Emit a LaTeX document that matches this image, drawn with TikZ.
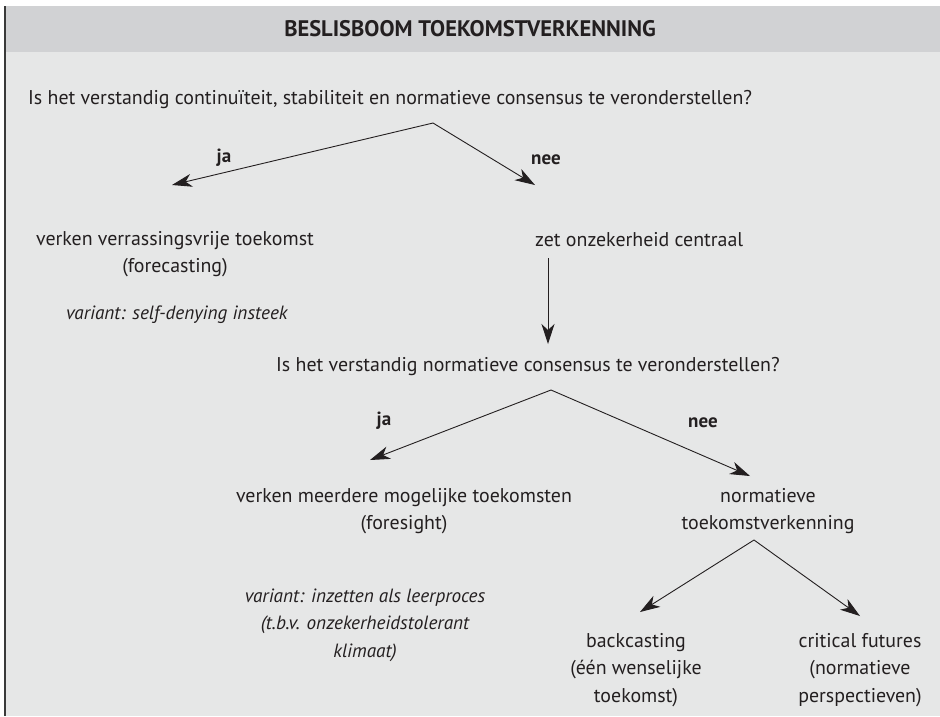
\documentclass[tikz,border=0pt]{standalone}
\usepackage{fontspec}
\setmainfont{PT Sans}
\usetikzlibrary{arrows.meta}
\definecolor{headc}{HTML}{D1D2D4}
\definecolor{bodyc}{HTML}{E6E7E7}
\definecolor{bordc}{HTML}{3A3A3A}
\definecolor{txtc}{HTML}{231F20}
\tikzset{
  txt/.style={inner sep=0pt, text=txtc, font=\fontsize{19.9}{27.5}\selectfont},
  ctxt/.style={txt, align=center},
  itxt/.style={txt, align=center, font=\fontsize{19.2}{27.5}\selectfont\itshape},
  lbl/.style={txt, font=\fontsize{19}{27.5}\selectfont\bfseries},
  ttl/.style={txt, font=\fontsize{22.5}{27.5}\selectfont\bfseries},
  arr/.style={draw=txtc, line width=0.9pt, -{Stealth[length=20pt,width=13pt,inset=6pt]}},
}
\begin{document}
\begin{tikzpicture}[x=1pt,y=-1pt]
\useasboundingbox (0,0) rectangle (940,716);
\fill[bodyc] (6,52) rectangle (940,716);
\fill[headc] (6,6) rectangle (940,52);
\draw[bordc, line width=2pt] (5,6) -- (5,716);
\node[ttl] (title) at (470,29) {BESLISBOOM TOEKOMSTVERKENNING};
\node[txt, anchor=west] (q1) at (28,100) {Is het verstandig continuïteit, stabiliteit en normatieve consensus te veronderstellen?};
\coordinate (apex1) at (433,123);
\coordinate (e1) at (172,185);
\coordinate (e2) at (535,185);
\node[lbl] (ja1) at (224,158) {ja};
\node[lbl] (nee1) at (546,160) {nee};
\node[ctxt] (fore) at (175,254) {verken verrassingsvrije toekomst\\(forecasting)};
\node[itxt, anchor=west] (var1) at (66,315) {variant: self-denying insteek};
\node[txt, anchor=west] (zet) at (535,240) {zet onzekerheid centraal};
\coordinate (v1) at (548,258);
\coordinate (v2) at (548,344);
\node[txt, anchor=west] (q2) at (276,367) {Is het verstandig normatieve consensus te veronderstellen?};
\coordinate (apex2) at (551,390);
\coordinate (e3) at (370,460);
\coordinate (e4) at (750,476);
\node[lbl] (ja2) at (384,421) {ja};
\node[lbl] (nee2) at (703,423) {nee};
\node[ctxt] (foresight) at (404,511) {verken meerdere mogelijke toekomsten\\(foresight)};
\node[ctxt] (norm) at (768,511) {normatieve\\toekomstverkenning};
\coordinate (apex3) at (754,540);
\coordinate (e5) at (640,612);
\coordinate (e6) at (860,616);
\node[itxt] (var2) at (365,625) {variant: inzetten als leerproces\\(t.b.v. onzekerheidstolerant\\klimaat)};
\node[ctxt] (back) at (636,670) {backcasting\\(één wenselijke\\toekomst)};
\node[ctxt] (crit) at (860,670) {critical futures\\(normatieve\\perspectieven)};
\draw[arr] (apex1) -- (e1);
\draw[arr] (apex1) -- (e2);
\draw[arr] (v1) -- (v2);
\draw[arr] (apex2) -- (e3);
\draw[arr] (apex2) -- (e4);
\draw[arr] (apex3) -- (e5);
\draw[arr] (apex3) -- (e6);
\end{tikzpicture}
\end{document}
